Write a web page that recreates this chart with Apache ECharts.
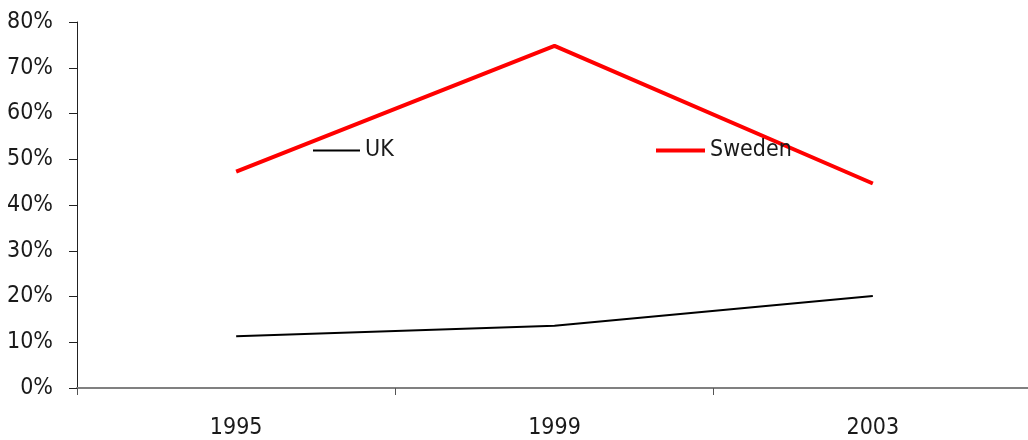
<!DOCTYPE html>
<html>
<head>
<meta charset="utf-8">
<script src="https://cdn.jsdelivr.net/npm/echarts@6/dist/echarts.min.js"></script>
<style>
  html, body { margin: 0; padding: 0; background: #fff; overflow: hidden; }
  #chart { width: 1034px; height: 440px; }
</style>
</head>
<body>
<div id="chart"></div>
<script>
// Years on the category axis
const years = ['1995', '1999', '2003'];
// Shares in percent
const ukValues = [11.3, 13.6, 20.1];
const swedenValues = [47.3, 74.8, 44.7];
// Value axis range and step
const yMin = 0;
const yMax = 80;
const yStep = 10;

const FONT = '"Liberation Sans Narrow", "DejaVu Sans Condensed", "Liberation Sans", sans-serif';

const chart = echarts.init(document.getElementById('chart'), null, { renderer: 'canvas' });

chart.setOption({
  animation: false,
  backgroundColor: '#ffffff',
  textStyle: { fontFamily: FONT },
  grid: { left: 77, right: 2, top: 22, bottom: 52, containLabel: false },
  legend: [
    {
      data: [{ name: 'UK', icon: 'rect' }],
      left: 313, top: 139, padding: 0,
      itemWidth: 47, itemHeight: 2, itemGap: 6,
      textStyle: { fontFamily: FONT, fontSize: 23, color: '#1a1a1a' }
    },
    {
      data: [{ name: 'Sweden', icon: 'rect' }],
      left: 656, top: 139, padding: 0,
      itemWidth: 49, itemHeight: 4, itemGap: 6,
      textStyle: { fontFamily: FONT, fontSize: 23, color: '#1a1a1a' }
    }
  ],
  xAxis: {
    type: 'category',
    data: years,
    boundaryGap: true,
    axisLine: { show: true, lineStyle: { color: '#808080', width: 2 } },
    axisTick: { show: true, inside: false, length: 7, lineStyle: { color: '#555', width: 1 } },
    axisLabel: { fontFamily: FONT, fontSize: 23, color: '#1a1a1a', margin: 29 },
    splitLine: { show: false }
  },
  yAxis: {
    type: 'value',
    min: yMin, max: yMax, interval: yStep,
    axisLine: { show: true, lineStyle: { color: '#222', width: 1 } },
    axisTick: { show: true, inside: false, length: 8, lineStyle: { color: '#222', width: 1 } },
    axisLabel: { fontFamily: FONT, fontSize: 23, color: '#1a1a1a', margin: 24, formatter: v => v + '%' },
    splitLine: { show: false }
  },
  series: [
    {
      name: 'UK', type: 'line', data: ukValues,
      symbol: 'none',
      lineStyle: { color: '#000000', width: 2 },
      itemStyle: { color: '#000000' }
    },
    {
      name: 'Sweden', type: 'line', data: swedenValues,
      symbol: 'none',
      lineStyle: { color: '#ff0000', width: 4 },
      itemStyle: { color: '#ff0000' }
    }
  ]
});
</script>
</body>
</html>
